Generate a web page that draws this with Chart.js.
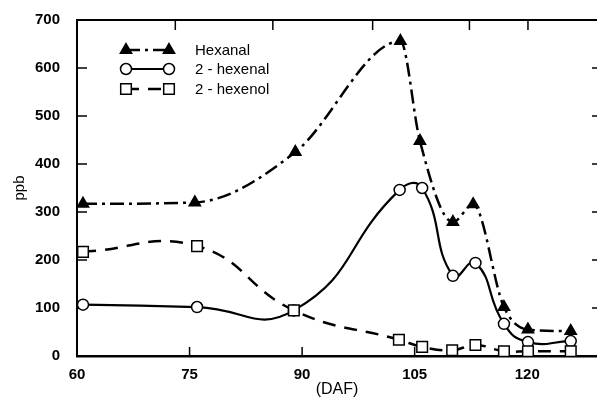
<!DOCTYPE html>
<html>
<head>
<meta charset="utf-8">
<script src="https://cdn.jsdelivr.net/npm/chart.js@4/dist/chart.umd.min.js"></script>
<style>
  html, body { margin: 0; padding: 0; background: #fff; }
  canvas { display: block; }
</style>
</head>
<body>
<canvas id="c" width="597" height="403"></canvas>
<script>
// Volatile compounds (ppb) against days after flowering (DAF)
const seriesNames = ['Hexanal', '2 - hexenal', '2 - hexenol'];

const hexanalDays = [60.8, 75.7, 89.1, 103.1, 105.7, 110.1, 112.8, 116.9, 120.1, 125.8];
const hexanalPpb  = [317, 320, 425, 656, 448, 279, 316, 102, 55, 52];

const hexenalDays = [60.8, 76.0, 88.9, 103.0, 106.0, 110.1, 113.1, 116.9, 120.1, 125.8];
const hexenalPpb  = [107, 102, 95, 346, 350, 167, 194, 67, 29, 31];

const hexenolDays = [60.8, 76.0, 88.9, 102.9, 106.0, 110.0, 113.1, 116.9, 120.1, 125.8];
const hexenolPpb  = [217, 229, 95, 34, 19, 12, 23, 10, 10, 10];

const xTickLabels  = [60, 75, 90, 105, 120];
const xTickMarks   = [75, 90, 105, 120, 125.7];
const topTickMarks = [73.1, 86.1, 99.4, 112.3, 120.1];
const yTickLabels  = [0, 100, 200, 300, 400, 500, 600, 700];

const FONT = '"Liberation Sans", Arial, Helvetica, sans-serif';

const toPoints = (xs, ys) => xs.map((x, i) => ({ x, y: ys[i] }));

const styles = [
  { dash: [14, 5, 3, 5], width: 2.5, pointStyle: 'triangle', radius: 6.5, fill: '#000', tension: 0.4, mode: 'monotone' },
  { dash: [],            width: 2.2, pointStyle: 'circle',   radius: 5.5, fill: '#fff', tension: 0.5, mode: 'default' },
  { dash: [13, 9],       width: 2.5, pointStyle: 'rect',     radius: 7.5, fill: '#fff', tension: 0.45, mode: 'default' }
];

const seriesData = [
  toPoints(hexanalDays, hexanalPpb),
  toPoints(hexenalDays, hexenalPpb),
  toPoints(hexenolDays, hexenolPpb)
];

// Draw order: hexenol markers on top, then hexenal, then hexanal
const datasets = seriesNames.map((name, i) => ({
  label: name,
  data: seriesData[i],
  borderColor: '#000',
  borderWidth: styles[i].width,
  borderDash: styles[i].dash,
  tension: styles[i].tension,
  cubicInterpolationMode: styles[i].mode,
  pointStyle: styles[i].pointStyle,
  pointRadius: styles[i].radius,
  pointBackgroundColor: styles[i].fill,
  pointBorderColor: '#000',
  pointBorderWidth: 1.5,
  order: 2 - i
}));

// Frame top edge and inward tick marks
const frameTicks = {
  id: 'frameTicks',
  beforeDatasetsDraw(chart) {
    const { ctx, chartArea: a, scales: { x, y } } = chart;
    ctx.save();
    ctx.strokeStyle = '#000';
    ctx.lineCap = 'butt';
    ctx.lineWidth = 2;
    ctx.beginPath();
    ctx.moveTo(a.left, a.top);
    ctx.lineTo(a.right, a.top);
    ctx.stroke();
    ctx.lineWidth = 1.5;
    const seg = (x1, y1, x2, y2) => { ctx.beginPath(); ctx.moveTo(x1, y1); ctx.lineTo(x2, y2); ctx.stroke(); };
    xTickMarks.forEach(v => { const p = x.getPixelForValue(v); seg(p, a.bottom, p, a.bottom - 9); });
    topTickMarks.forEach(v => { const p = x.getPixelForValue(v); seg(p, a.top, p, a.top + 10); });
    yTickLabels.forEach(v => {
      if (v <= 0 || v >= 700) return;
      const p = y.getPixelForValue(v);
      seg(a.left, p, a.left + 10, p);
      seg(a.right - 5, p, a.right, p);
    });
    ctx.restore();
  }
};

// Legend box: sample line with a marker at each end, then the name
const lineLegend = {
  id: 'lineLegend',
  afterDraw(chart) {
    const { ctx } = chart;
    const x0 = 126, x1 = 169, textX = 195, rowY = [50, 69, 89];
    ctx.save();
    seriesNames.forEach((name, i) => {
      const s = styles[i];
      const yy = rowY[i];
      ctx.strokeStyle = '#000';
      ctx.lineWidth = s.width;
      ctx.setLineDash(s.dash);
      ctx.beginPath();
      ctx.moveTo(x0, yy);
      ctx.lineTo(x1, yy);
      ctx.stroke();
      ctx.setLineDash([]);
      [x0, x1].forEach(px => {
        ctx.fillStyle = s.fill;
        ctx.strokeStyle = '#000';
        ctx.lineWidth = 1.5;
        Chart.helpers.drawPoint(ctx, { pointStyle: s.pointStyle, radius: s.radius, rotation: 0, borderWidth: 1.5 }, px, yy);
      });
      ctx.fillStyle = '#000';
      ctx.font = '15px ' + FONT;
      ctx.textBaseline = 'middle';
      ctx.textAlign = 'left';
      ctx.fillText(name, textX, yy + 1);
    });
    ctx.restore();
  }
};

new Chart(document.getElementById('c'), {
  type: 'line',
  data: { datasets },
  plugins: [frameTicks, lineLegend],
  options: {
    responsive: false,
    animation: false,
    devicePixelRatio: 1,
    layout: { autoPadding: false, padding: { top: 20, right: 0, left: 0, bottom: 0 } },
    plugins: { legend: { display: false }, tooltip: { enabled: false } },
    scales: {
      x: {
        type: 'linear',
        position: 'bottom',
        min: 60,
        max: 129.3,
        grid: { display: false },
        border: { display: true, color: '#000', width: 2.5 },
        afterBuildTicks(scale) { scale.ticks = xTickLabels.map(v => ({ value: v })); },
        afterFit(scale) { scale.height = 47; scale.paddingLeft = 0; scale.paddingRight = 0; },
        ticks: { color: '#000', font: { family: FONT, size: 15, weight: 'bold' }, padding: 2, maxRotation: 0, autoSkip: false },
        title: { display: true, text: '(DAF)', color: '#000', font: { family: FONT, size: 16 }, padding: { top: 0, bottom: 4 } }
      },
      y: {
        min: 0,
        max: 700,
        grid: { display: false },
        border: { display: true, color: '#000', width: 2 },
        afterBuildTicks(scale) { scale.ticks = yTickLabels.map(v => ({ value: v })); },
        afterFit(scale) { scale.width = 77; },
        ticks: { color: '#000', font: { family: FONT, size: 15, weight: 'bold' }, padding: 9 },
        title: { display: true, text: 'ppb', color: '#000', font: { family: FONT, size: 15 }, padding: { top: 11, bottom: 0 } }
      }
    }
  }
});
</script>
</body>
</html>
